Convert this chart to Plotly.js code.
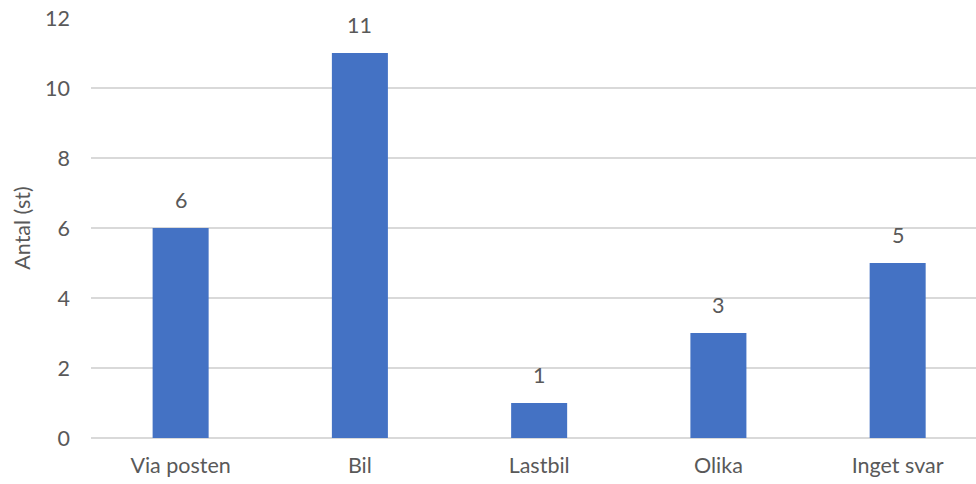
<!DOCTYPE html>
<html>
<head>
<meta charset="utf-8">
<script src="https://cdn.plot.ly/plotly-3.0.1.min.js"></script>
<style>html,body{margin:0;padding:0;background:#fff;}#chart{width:976px;height:484px;}</style>
</head>
<body>
<div id="chart"></div>
<script>
const categories = ["Via posten", "Bil", "Lastbil", "Olika", "Inget svar"];
const values = [6, 11, 1, 3, 5];
const yTicks = [0, 2, 4, 6, 8, 10, 12];

const FONT = "Lato, 'Open Sans', sans-serif";
const GRAY = "#595959";
const FS = 21.5;

const trace = {
  type: "bar",
  x: categories,
  y: values,
  marker: {color: "#4472C4", line: {width: 0}},
  hoverinfo: "none"
};

const annotations = categories.map((c, i) => ({
  x: c, y: values[i], text: String(values[i]),
  xref: "x", yref: "y", showarrow: false,
  yanchor: "bottom", yshift: 13,
  font: {family: FONT, size: FS, color: GRAY}
}));

const layout = {
  width: 976, height: 484,
  margin: {l: 91, r: 0, t: 18, b: 46},
  paper_bgcolor: "#fff", plot_bgcolor: "#fff",
  bargap: 0.6875,
  showlegend: false,
  font: {family: FONT, size: FS, color: GRAY},
  xaxis: {
    type: "category",
    range: [-0.5, 4.437],
    showgrid: false, zeroline: false,
    showline: false, ticks: "",
    ticklabelstandoff: 12,
    tickfont: {family: FONT, size: FS, color: GRAY}
  },
  yaxis: {
    range: [0, 12],
    tickvals: yTicks,
    ticktext: yTicks.map(String),
    showgrid: true, gridcolor: "#d9d9d9", gridwidth: 1.2,
    zeroline: true, zerolinecolor: "#d9d9d9", zerolinewidth: 1.2,
    showline: false, ticks: "",
    ticklabelstandoff: 20,
    tickfont: {family: FONT, size: FS, color: GRAY},
    title: {text: "Antal (st)", standoff: 8, font: {family: FONT, size: FS, color: GRAY}}
  },
  annotations: annotations
};

Plotly.newPlot("chart", [trace], layout, {staticPlot: true, displayModeBar: false});
</script>
</body>
</html>
